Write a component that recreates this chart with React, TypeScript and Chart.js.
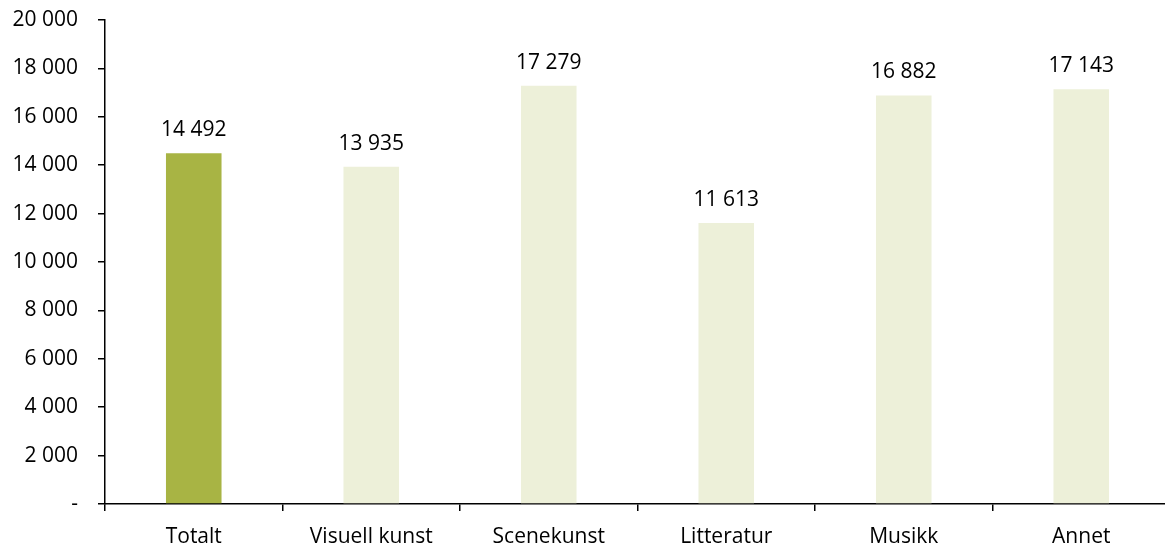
import React, { useEffect, useRef } from "react";
import { Chart, registerables } from "chart.js";

Chart.register(...registerables);

const categories = ["Totalt", "Visuell kunst", "Scenekunst", "Litteratur", "Musikk", "Annet"];
const values = [14492, 13935, 17279, 11613, 16882, 17143];
const barColors = ["#A8B444", "#EDF0D9", "#EDF0D9", "#EDF0D9", "#EDF0D9", "#EDF0D9"];
const yMin = 0;
const yMax = 20000;
const yStep = 2000;

const FONT = "'Open Sans', 'Noto Sans', sans-serif";
const FONT_SIZE = 21;

function fmt(v: number): string {
  if (v === 0) return "-";
  return String(Math.round(v)).replace(/\B(?=(\d{3})+(?!\d))/g, " ");
}

const valueLabels = {
  id: "valueLabels",
  afterDatasetsDraw(chart: any) {
    const ctx = chart.ctx;
    const meta = chart.getDatasetMeta(0);
    ctx.save();
    ctx.font = `${FONT_SIZE}px ${FONT}`;
    ctx.fillStyle = "#000";
    ctx.textAlign = "center";
    ctx.textBaseline = "alphabetic";
    meta.data.forEach((bar: any, i: number) => {
      ctx.fillText(fmt(values[i]), bar.x, bar.y - 17);
    });
    ctx.restore();
  },
};

export default function App() {
  const ref = useRef<HTMLCanvasElement | null>(null);
  useEffect(() => {
    document.body.style.margin = "0";
    document.body.style.overflow = "hidden";
    const canvas = ref.current!;
    const chart = new Chart(canvas, {
      type: "bar",
      data: {
        labels: categories,
        datasets: [
          {
            data: values,
            backgroundColor: barColors,
            borderWidth: 0,
            barPercentage: 0.313,
            categoryPercentage: 1,
          },
        ],
      },
      options: {
        responsive: false,
        animation: false,
        devicePixelRatio: 1,
        layout: { padding: { top: 20, right: 0, left: 0, bottom: 0 } },
        plugins: {
          legend: { display: false },
          tooltip: { enabled: false },
        },
        scales: {
          x: {
            offset: true,
            grid: {
              offset: true,
              display: true,
              drawOnChartArea: false,
              drawTicks: true,
              tickLength: 7,
              color: "#000",
              lineWidth: 1.5,
            },
            border: { display: true, color: "#000", width: 1.5 },
            ticks: {
              color: "#000",
              font: { family: FONT, size: FONT_SIZE },
              padding: 13,
              maxRotation: 0,
              autoSkip: false,
            },
            afterFit: (scale: any) => {
              scale.height = 40;
              scale.paddingLeft = 0;
              scale.paddingRight = 0;
            },
          },
          y: {
            min: yMin,
            max: yMax,
            grid: {
              display: true,
              drawOnChartArea: false,
              drawTicks: true,
              tickLength: 7,
              color: "#000",
              lineWidth: 1.5,
            },
            border: { display: true, color: "#000", width: 1.5 },
            ticks: {
              stepSize: yStep,
              color: "#000",
              font: { family: FONT, size: FONT_SIZE },
              padding: 20,
              callback: (v: any) => fmt(Number(v)),
            },
            afterFit: (scale: any) => {
              scale.width = 105;
              scale.paddingTop = 0;
              scale.paddingBottom = 0;
            },
          },
        },
      },
      plugins: [valueLabels],
    });
    return () => chart.destroy();
  }, []);
  return (
    <div style={{ position: "fixed", left: 0, top: 0, width: 1165, height: 544, overflow: "hidden", background: "#fff" }}>
      <canvas ref={ref} width={1170} height={544} style={{ display: "block" }} />
    </div>
  );
}
